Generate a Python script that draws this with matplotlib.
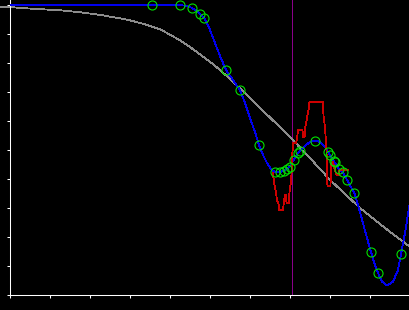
import matplotlib
matplotlib.use('Agg')
import matplotlib.pyplot as plt
import numpy as np

# gray reference curve
gray_x = [-0.25, 0, 0.25, 0.675, 1.25, 1.75, 2.25, 2.75, 3.0, 3.25, 3.5, 3.75, 4.0, 4.25,
          4.5, 4.75, 5.0, 5.25, 5.5, 5.75, 6.0, 6.5, 7.0, 7.5, 8.0, 8.75, 9.375, 10.0]
gray_y = [9.93, 9.93, 9.90, 9.86, 9.82, 9.75, 9.66, 9.54, 9.47, 9.38, 9.28, 9.16, 8.98, 8.78,
          8.55, 8.30, 8.04, 7.76, 7.45, 7.12, 6.79, 6.12, 5.45, 4.72, 3.97, 3.00, 2.31, 1.66]

# blue fitted curve
blue_x = [0, 3.55, 4.25, 4.4, 4.55, 4.675, 4.75, 4.8625, 5.0, 5.125, 5.25, 5.4, 5.575,
          5.75, 5.875, 6.0, 6.125, 6.225, 6.325, 6.425, 6.525, 6.625, 6.75, 6.85, 6.925,
          7.0, 7.0875, 7.2, 7.25, 7.375, 7.5, 7.625, 7.75, 7.875, 7.95, 8.0, 8.0875, 8.15,
          8.225, 8.3125, 8.425, 8.525, 8.6125, 8.75, 8.875, 9.025, 9.125, 9.2, 9.3, 9.425,
          9.575, 9.7, 9.775, 9.875, 10.0]
blue_y = [10.0, 10.0, 10.0, 9.97, 9.90, 9.79, 9.69, 9.55, 9.14, 8.69, 8.24, 7.76, 7.41,
          7.07, 6.62, 6.10, 5.62, 5.17, 4.83, 4.55, 4.34, 4.24, 4.24, 4.29, 4.36,
          4.45, 4.64, 4.90, 4.97, 5.14, 5.28, 5.32, 5.28, 5.10, 4.93, 4.83, 4.62, 4.52,
          4.34, 4.24, 3.97, 3.72, 3.51, 2.86, 2.21, 1.48, 1.03, 0.76, 0.46, 0.33,
          0.46, 0.86, 1.41, 2.14, 3.21]

# red noisy curve
red_x = [6.575, 6.6, 6.65, 6.675, 6.7125, 6.725, 6.825, 6.85, 6.875, 6.9, 6.9125, 6.975,
         6.9875, 7.0125, 7.0375, 7.05, 7.075, 7.15, 7.175, 7.2, 7.3125, 7.325, 7.3625,
         7.3875, 7.425, 7.4625, 7.4875, 7.825, 7.8375, 7.8625, 7.8875, 7.9125, 7.925,
         7.9375, 8.0125, 8.025, 8.075, 8.1, 8.1625, 8.225, 8.2375, 8.45]
red_y = [4.21, 3.86, 3.55, 3.24, 3.17, 2.93, 2.93, 3.24, 3.45, 3.45, 3.17, 3.17,
         3.55, 3.79, 4.14, 4.66, 5.24, 5.24, 5.38, 5.69, 5.69, 5.45, 5.45,
         5.83, 6.10, 6.38, 6.66, 6.66, 6.17, 5.93, 5.52, 5.0, 4.14,
         3.76, 3.76, 4.48, 4.59, 4.41, 4.14, 4.14, 4.31, 4.31]

# sample points (green circles)
pts_x = [3.55, 4.25, 4.55, 4.75, 4.86, 5.41, 5.76, 6.23, 6.63, 6.76, 6.85, 6.93, 6.99, 7.09,
         7.21, 7.25, 7.63, 7.96, 7.99, 8.09, 8.125, 8.23, 8.32, 8.43, 8.61, 9.03, 9.19, 9.78]
pts_y = [10.0, 10.0, 9.9, 9.69, 9.55, 7.77, 7.06, 5.17, 4.24, 4.24, 4.29, 4.36, 4.43, 4.64,
         4.89, 4.96, 5.32, 4.93, 4.84, 4.62, 4.58, 4.34, 4.23, 3.96, 3.51, 1.47, 0.75, 1.40]

vline_x = 7.05

fig = plt.figure(figsize=(4.1, 3.1), dpi=100, facecolor='black')
ax = fig.add_axes([10 / 410, 15 / 310, 400 / 410, 295 / 310])
ax.set_facecolor('black')

lw = 0.6  # ~1 pixel
ax.axvline(vline_x, color='#8a008a', lw=lw, zorder=1, antialiased=False)
ax.plot(gray_x, gray_y, color='#8c8c8c', lw=lw, zorder=2, clip_on=False, antialiased=False)
ax.plot(blue_x, blue_y, color='#0000ee', lw=lw, zorder=3, antialiased=False)
ax.plot(red_x, red_y, color='#cc0000', lw=lw, zorder=4, antialiased=False)
ax.plot(pts_x, pts_y, 'o', ms=6.5, mfc='none', mec='#00e000', mew=0.8, zorder=5)

ax.set_xlim(0, 10)
ax.set_ylim(0, 10 + 5 / 29)
ax.set_xticks(np.arange(0, 11, 1))
ax.set_yticks(np.arange(0, 11, 1))
ax.set_xticklabels([])
ax.set_yticklabels([])
ax.tick_params(colors='white', length=2.5, width=0.75, direction='out')

for s in ['top', 'right']:
    ax.spines[s].set_visible(False)
for s in ['left', 'bottom']:
    ax.spines[s].set_color('white')
    ax.spines[s].set_linewidth(0.75)

fig.savefig('out.png', dpi=100, facecolor='black')
